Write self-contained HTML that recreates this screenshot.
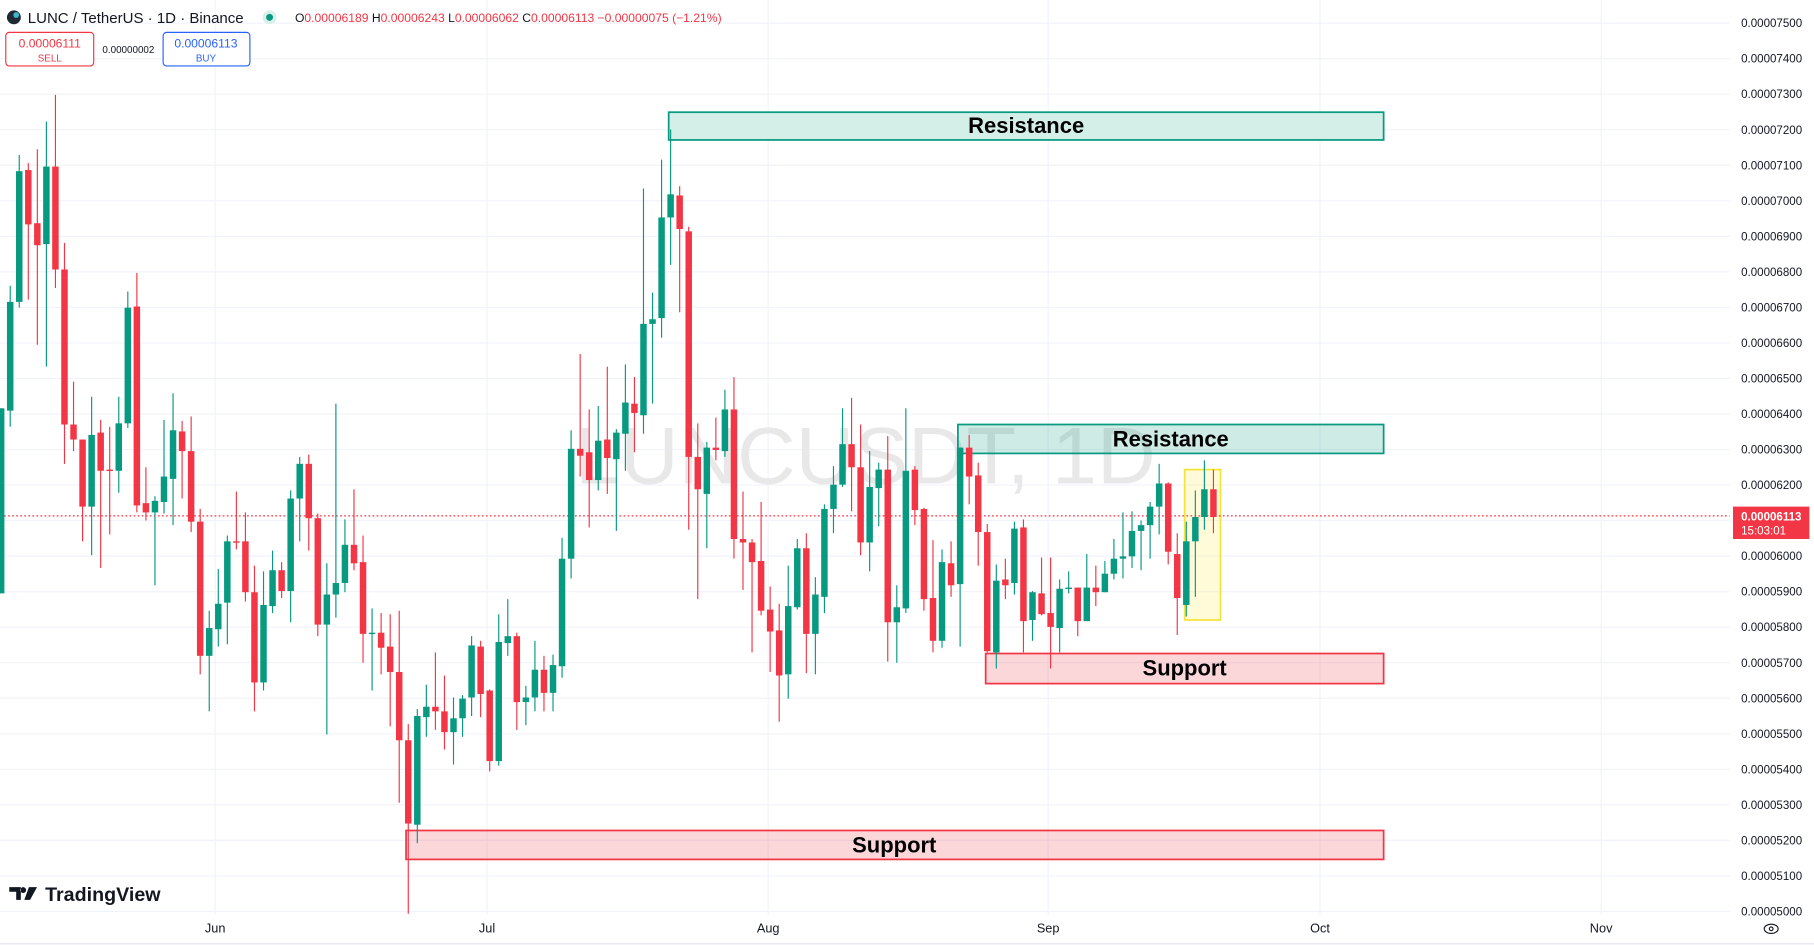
<!DOCTYPE html>
<html><head><meta charset="utf-8"><style>
html,body{margin:0;padding:0;background:#fff;width:1814px;height:945px;overflow:hidden}
svg{display:block}
text{font-family:"Liberation Sans",sans-serif}
</style></head><body>
<svg id="s" width="1814" height="945" viewBox="0 0 1568 817" preserveAspectRatio="none" xmlns="http://www.w3.org/2000/svg">
<rect width="1568" height="817" fill="#fff"/>
<g id="grid"></g>
<text x="748" y="418" font-size="70" fill="#e8e8e8" text-anchor="middle" font-family="Liberation Sans">LUNCUSDT, 1D</text>
<g id="boxesBack">
<rect x="578" y="97" width="618" height="24" fill="#d3efe8" stroke="#089981" stroke-width="1.5"/>
<rect x="828" y="367" width="368" height="25" fill="rgba(8,153,129,0.2)" stroke="#089981" stroke-width="1.5"/>
<rect x="852" y="565" width="344" height="26" fill="rgba(242,54,69,0.2)" stroke="#f23645" stroke-width="1.5"/>
<rect x="351" y="718" width="845" height="25" fill="rgba(242,54,69,0.2)" stroke="#f23645" stroke-width="1.5"/>
<rect x="1024" y="406" width="31" height="130" fill="rgba(255,235,59,0.2)" stroke="#f5e33a" stroke-width="1.5"/>
</g>
<line x1="0" y1="446" x2="1495" y2="446" stroke="#f23645" stroke-width="1" stroke-dasharray="1.5,2"/>
<g id="candles"></g>
<g font-weight="bold" font-size="19" fill="#000" text-anchor="middle">
<text x="887" y="115">Resistance</text>
<text x="1012" y="386">Resistance</text>
<text x="1024" y="584">Support</text>
<text x="773" y="737">Support</text>
</g>
<g id="axis" font-size="10" fill="#131722"></g>
<rect x="1498" y="438" width="66" height="28" fill="#f23645"/>
<text x="1505" y="450" font-size="10" fill="#fff" font-weight="bold">0.00006113</text>
<text x="1505" y="462" font-size="10" fill="#fff">15:03:01</text>
<line x1="0" y1="816" x2="1568" y2="816" stroke="#e0e3eb"/>
<g font-size="11" fill="#131722" text-anchor="middle">
<text x="186" y="806">Jun</text><text x="421" y="806">Jul</text><text x="664" y="806">Aug</text>
<text x="906" y="806">Sep</text><text x="1141" y="806">Oct</text><text x="1384" y="806">Nov</text>
</g>
<ellipse cx="1531" cy="803" rx="6" ry="4" fill="none" stroke="#131722" stroke-width="1"/>
<circle cx="1531" cy="803" r="1.6" fill="none" stroke="#131722"/>
<circle cx="12" cy="15" r="6" fill="#1e2a33"/><circle cx="14" cy="13" r="2.5" fill="#3fb5c6"/>
<text x="24" y="20" font-size="13" fill="#131722">LUNC / TetherUS · 1D · Binance</text>
<circle cx="233" cy="15" r="6" fill="#d7f0ea"/><circle cx="233" cy="15" r="3" fill="#089981"/>
<text x="255" y="19" font-size="10.5" fill="#131722">O<tspan fill="#f23645">0.00006189</tspan> H<tspan fill="#f23645">0.00006243</tspan> L<tspan fill="#f23645">0.00006062</tspan> C<tspan fill="#f23645">0.00006113 −0.00000075 (−1.21%)</tspan></text>
<rect x="5" y="28" width="76" height="29" rx="3" fill="#fff" stroke="#f23645"/>
<text x="43" y="41" font-size="10.5" fill="#f23645" text-anchor="middle">0.00006111</text>
<text x="43" y="53" font-size="8.5" fill="#f23645" text-anchor="middle">SELL</text>
<text x="111" y="46" font-size="8.5" fill="#131722" text-anchor="middle">0.00000002</text>
<rect x="141" y="28" width="75" height="29" rx="3" fill="#fff" stroke="#2962ff"/>
<text x="178" y="41" font-size="10.5" fill="#2962ff" text-anchor="middle">0.00006113</text>
<text x="178" y="53" font-size="8.5" fill="#2962ff" text-anchor="middle">BUY</text>
<path d="M8 767h10v11h-4v-7h-6z M20 767a2.5 2.5 0 1 0 0.1 0z M25 767h7l-6 11h-5z" fill="#131722"/>
<text x="39" y="779" font-size="17" font-weight="bold" fill="#131722">TradingView</text>
</svg>
<script>
var NS="http://www.w3.org/2000/svg";
function el(p,t,a){var e=document.createElementNS(NS,t);for(var k in a)e.setAttribute(k,a[k]);p.appendChild(e);return e;}
var g=document.getElementById('grid'),ax=document.getElementById('axis');
for(var k=0;k<=25;k++){var y=20+k*(768/25);el(g,'line',{x1:0,x2:1495,y1:y,y2:y,stroke:'#f0f3fa','stroke-width':1});
var p=(75-k)/10;var t=el(ax,'text',{x:1505,y:y+3.5});t.textContent='0.0000'+(p.toFixed(1).replace('.',''))+'00';}
[186,421,664,906,1141,1384].forEach(function(x){el(g,'line',{x1:x,x2:x,y1:0,y2:791,stroke:'#f0f3fa'});});
var D="G 513 353 513 353|G 355 261 369 247|G 261 148 266 134|R 147 194 259 141|R 193 212 298 129|G 211 144 317 105|R 144 233 249 82|R 233 367 401 210|R 367 380 390 330|R 380 438 468 380|G 438 376 480 343|R 374 407 491 363|R 406 407 462 369|G 407 366 426 343|G 366 266 370 252|R 265 437 443 236|R 435 443 450 404|G 443 433 506 429|G 434 412 444 363|G 414 372 454 340|R 373 390 431 364|R 390 451 460 360|R 451 567 583 440|G 567 543 615 528|G 544 522 559 492|G 521 468 557 463|R 468 469 475 425|R 468 512 520 443|R 512 590 615 489|G 590 523 597 494|G 524 493 530 476|R 493 511 517 486|G 511 431 538 424|G 431 401 468 395|R 401 448 476 393|R 448 540 550 444|G 540 514 635 487|G 514 504 534 349|G 504 471 512 449|R 471 487 493 423|R 486 548 573 463|G 548 547 597 526|R 547 560 583 530|R 559 581 628 531|R 581 640 694 528|R 640 712 790 626|G 713 619 729 613|G 620 611 637 592|R 611 615 631 564|R 615 633 648 584|G 633 621 661 603|G 621 604 637 601|G 603 558 619 550|R 559 600 620 554|R 597 658 667 596|G 658 555 662 531|G 556 550 567 518|R 550 607 631 547|G 607 603 627 593|G 603 579 615 554|R 579 599 615 567|G 599 575 615 566|G 576 483 586 465|G 483 388 500 372|R 388 394 412 306|R 391 415 456 354|G 415 381 424 351|R 380 396 427 317|G 397 374 459 371|G 375 348 407 315|R 349 357 391 326|G 359 280 375 163|G 280 276 349 253|G 275 188 292 138|G 188 168 229 112|R 169 198 270 161|R 200 395 458 196|R 395 423 518 366|G 427 387 474 382|R 387 389 398 361|G 390 354 395 337|R 354 466 483 326|R 466 469 510 425|R 469 486 564 466|R 485 528 532 434|R 527 546 581 507|R 545 584 624 522|G 583 524 604 489|G 525 474 527 466|R 474 548 582 461|G 548 514 583 499|G 516 440 530 436|G 440 419 461 403|G 419 384 421 353|R 384 404 442 344|R 404 469 480 367|G 469 421 494 390|G 422 406 455 400|R 406 538 572 377|G 538 525 573 506|G 526 407 530 353|R 406 441 454 403|R 440 518 528 439|R 517 554 564 467|G 554 486 560 475|R 487 506 516 468|G 505 387 559 387|R 387 412 436 376|R 411 460 489 400|R 460 563 564 453|G 564 502 578 488|R 501 506 518 483|G 504 457 514 451|R 456 537 564 449|G 536 512 554 511|R 513 531 532 482|R 530 542 578 482|G 543 509 564 501|G 508 508 513 494|R 508 537 550 508|G 537 508 537 479|R 508 512 524 489|G 512 496 512 485|G 496 483 501 466|G 483 481 500 443|G 481 459 491 442|G 459 454 493 450|G 454 438 483 434|G 438 418 462 401|R 418 477 488 417|R 479 517 549 461|G 523 468 533 451|G 468 447 516 424|G 447 423 458 398|R 423 447 461 406";
var c=document.getElementById('candles');
D.split('|').forEach(function(s,i){var a=s.split(' '),col=a[0]=='G'?'#089981':'#f23645';
var o=+a[1],cl=+a[2],h=+a[3],l=+a[4],x=1+7.82*i;
var top=Math.min(o,cl,h,l),bot=Math.max(o,cl,h,l);
el(c,'line',{x1:x,x2:x,y1:top,y2:bot,stroke:col,'stroke-width':1});
var bt=Math.min(o,cl),bh=Math.max(Math.abs(o-cl),1.2);
el(c,'rect',{x:x-2.8,y:bt,width:5.6,height:bh,fill:col});});
</script>
</body></html>
